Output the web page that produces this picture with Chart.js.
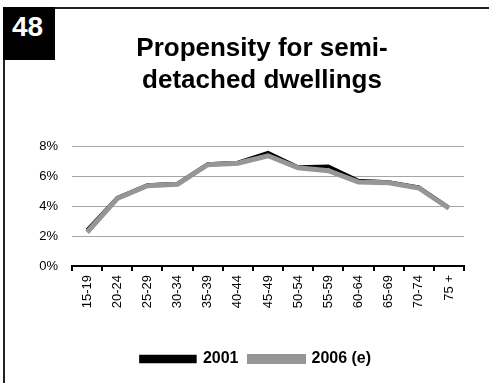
<!DOCTYPE html>
<html>
<head>
<meta charset="utf-8">
<script src="https://cdn.jsdelivr.net/npm/chart.js@4.4.0/dist/chart.umd.min.js"></script>
<style>
  html, body { margin: 0; padding: 0; background: #fff; }
  body { width: 489px; height: 383px; position: relative; overflow: hidden; font-family: "Liberation Sans", Arial, sans-serif; }
  #wrap { position: absolute; left: 0; top: 0; width: 489px; height: 383px; }
  #topline { position: absolute; left: 55px; top: 7px; width: 434px; height: 2px; background: #222; }
  #leftline { position: absolute; left: 3px; top: 60px; width: 2px; height: 323px; background: #222; }
  #badge { position: absolute; left: 3px; top: 7px; width: 52px; height: 53px; background: #000; color: #fff;
           font-weight: bold; font-size: 28px; line-height: 1; }
  #badge span { position: absolute; left: 9px; top: 6px; }
  #title { position: absolute; left: 62px; width: 400px; top: 31px; text-align: center;
           font-weight: bold; font-size: 26px; line-height: 32px; color: #000; }
</style>
</head>
<body>
<div id="wrap"><canvas id="c" width="489" height="383"></canvas></div>
<div id="topline"></div>
<div id="leftline"></div>
<div id="badge"><span>48</span></div>
<div id="title">Propensity for semi-<br>detached dwellings</div>
<script>
const categories = ['15-19','20-24','25-29','30-34','35-39','40-44','45-49','50-54','55-59','60-64','65-69','70-74','75 +'];
const series2001 = [2.4, 4.55, 5.4, 5.5, 6.8, 6.9, 7.55, 6.6, 6.65, 5.7, 5.6, 5.25, 3.9];
const series2006 = [2.25, 4.5, 5.35, 5.45, 6.75, 6.85, 7.35, 6.55, 6.35, 5.6, 5.55, 5.2, 3.85];
const yTicks = [0, 2, 4, 6, 8];

Chart.defaults.font.family = '"Liberation Sans", Arial, sans-serif';
Chart.defaults.color = '#000';

const shiftLegend = {
  id: 'shiftLegend',
  afterLayout(chart) {
    const l = chart.legend;
    if (l) { l.left += 10; l.right += 10; }
  }
};

new Chart(document.getElementById('c'), {
  type: 'line',
  data: {
    labels: categories,
    datasets: [
      { label: '2001', data: series2001, borderColor: '#000', backgroundColor: '#000',
        borderWidth: 3.5, pointRadius: 0, tension: 0, order: 1 },
      { label: '2006 (e)', data: series2006, borderColor: '#969696', backgroundColor: '#969696',
        borderWidth: 5, pointRadius: 0, tension: 0, order: 0 }
    ]
  },
  plugins: [shiftLegend],
  options: {
    responsive: false,
    animation: false,
    layout: { padding: { left: 28, right: 25, top: 146, bottom: 6 } },
    plugins: {
      title: { display: false },
      tooltip: { enabled: false },
      legend: {
        position: 'bottom',
        labels: {
          boxWidth: 54, boxHeight: 5, padding: 11,
          font: { size: 16, weight: 'bold' },
          sort: (a, b) => a.datasetIndex - b.datasetIndex
        }
      }
    },
    scales: {
      x: {
        offset: true,
        grid: { display: true, offset: true, drawOnChartArea: false, drawTicks: true,
                tickLength: 5, color: '#000', lineWidth: 2 },
        border: { display: true, color: '#000', width: 2 },
        ticks: { maxRotation: 90, minRotation: 90, font: { size: 13 }, padding: 4, autoSkip: false },
        afterFit: (axis) => { axis.height = 74; }
      },
      y: {
        min: 0, max: 8,
        afterBuildTicks: (axis) => { axis.ticks = yTicks.map(v => ({ value: v })); },
        afterFit: (axis) => { axis.width = 44; },
        grid: { color: '#a6a6a6', lineWidth: 1, drawTicks: false },
        border: { display: false },
        ticks: { font: { size: 13 }, padding: 14, callback: (v) => v + '%' }
      }
    }
  }
});
</script>
</body>
</html>
